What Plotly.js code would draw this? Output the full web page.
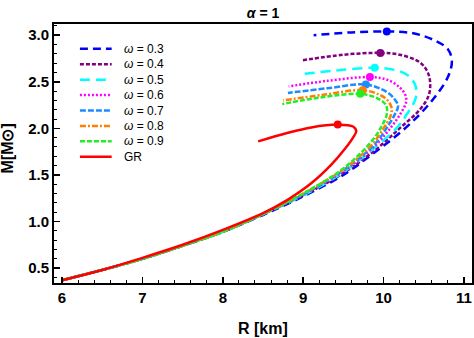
<!DOCTYPE html>
<html>
<head>
<meta charset="utf-8">
<script src="https://cdn.plot.ly/plotly-3.0.1.min.js"></script>
<style>
  body { margin: 0; background: #fff; }
  #grafica { width: 474px; height: 338px; }
</style>
</head>
<body>
<div id="grafica"></div>
<script>
// Curvas masa-radio (R en km, M en masas solares)
const nombres = ['ω = 0.3', 'ω = 0.4', 'ω = 0.5', 'ω = 0.6', 'ω = 0.7', 'ω = 0.8', 'ω = 0.9', 'GR'];

const R03 = [6.0, 6.5, 7.0, 7.5, 8.0, 8.5, 9.0, 9.5, 9.9, 10.2, 10.45, 10.65, 10.8, 10.85, 10.8, 10.62, 10.37, 10.04, 9.6, 9.13];
const M03 = [0.37, 0.48, 0.60, 0.74, 0.89, 1.07, 1.27, 1.50, 1.75, 1.95, 2.15, 2.35, 2.55, 2.72, 2.85, 2.95, 3.02, 3.04, 3.03, 3.00];

const R04 = [6.0, 6.5, 7.0, 7.5, 8.0, 8.5, 9.0, 9.5, 9.9, 10.2, 10.45, 10.56, 10.58, 10.55, 10.45, 10.2, 9.96, 9.5, 8.99];
const M04 = [0.37, 0.48, 0.60, 0.74, 0.89, 1.08, 1.28, 1.52, 1.77, 2.00, 2.20, 2.35, 2.48, 2.60, 2.71, 2.79, 2.81, 2.79, 2.73];

const R05 = [6.0, 6.5, 7.0, 7.5, 8.0, 8.5, 9.0, 9.5, 9.9, 10.17, 10.31, 10.39, 10.41, 10.38, 10.3, 10.17, 9.89, 9.4, 8.96];
const M05 = [0.37, 0.48, 0.60, 0.74, 0.89, 1.08, 1.28, 1.53, 1.80, 2.01, 2.18, 2.30, 2.40, 2.49, 2.57, 2.62, 2.65, 2.62, 2.58];

const R06 = [6.0, 6.5, 7.0, 7.5, 8.0, 8.5, 9.0, 9.5, 9.9, 10.1, 10.22, 10.28, 10.27, 10.2, 10.05, 9.83, 9.3, 8.82];
const M06 = [0.37, 0.48, 0.60, 0.74, 0.89, 1.08, 1.29, 1.54, 1.82, 2.02, 2.17, 2.28, 2.36, 2.44, 2.52, 2.55, 2.51, 2.45];

const R07 = [6.0, 6.5, 7.0, 7.5, 8.0, 8.5, 9.0, 9.5, 9.9, 10.05, 10.14, 10.18, 10.14, 10.04, 9.78, 9.3, 8.81];
const M07 = [0.37, 0.48, 0.60, 0.74, 0.89, 1.08, 1.29, 1.55, 1.84, 2.02, 2.15, 2.24, 2.31, 2.39, 2.47, 2.43, 2.38];

const R08 = [6.0, 6.5, 7.0, 7.5, 8.0, 8.5, 9.0, 9.5, 9.85, 10.0, 10.09, 10.1, 10.05, 9.95, 9.74, 9.25, 8.75];
const M08 = [0.37, 0.48, 0.60, 0.74, 0.89, 1.08, 1.30, 1.56, 1.82, 2.00, 2.14, 2.22, 2.30, 2.36, 2.41, 2.36, 2.30];

const R09 = [6.0, 6.5, 7.0, 7.5, 8.0, 8.5, 9.0, 9.5, 9.85, 9.98, 10.04, 10.03, 9.93, 9.71, 9.2, 8.74];
const M09 = [0.37, 0.48, 0.60, 0.74, 0.89, 1.08, 1.30, 1.57, 1.86, 2.03, 2.15, 2.25, 2.32, 2.37, 2.33, 2.26];

const RGR = [6.0, 6.5, 7.0, 7.5, 8.0, 8.5, 8.8, 9.1, 9.35, 9.52, 9.62, 9.66, 9.62, 9.43, 9.1, 8.8, 8.44];
const MGR = [0.37, 0.48, 0.61, 0.75, 0.91, 1.09, 1.23, 1.41, 1.61, 1.78, 1.90, 1.97, 2.02, 2.04, 2.01, 1.95, 1.86];

// Masa maxima de cada curva
const picoR = [10.04, 9.96, 9.89, 9.83, 9.78, 9.74, 9.71, 9.43];
const picoM = [3.04, 2.81, 2.65, 2.55, 2.47, 2.41, 2.37, 2.04];

const curvasR = [R03, R04, R05, R06, R07, R08, R09, RGR];
const curvasM = [M03, M04, M05, M06, M07, M08, M09, MGR];

const colores = ['#0000ff', '#800080', '#00ffff', '#ff00ff', '#1e8cff', '#ff8000', '#22ee22', '#ff0000'];
const trazos = ['8px,5px', '4px,2px', '10px,6px', '2px,2px', '6px,2px', '6px,2px,2px,2px', '5px,2px', 'solid'];

let data = [];
for (let i = 0; i < curvasR.length; i++) {
    data.push({
        x: curvasR[i], y: curvasM[i],
        mode: 'lines',
        line: { color: colores[i], width: 2.5, dash: trazos[i], shape: 'spline', smoothing: 1 },
        name: nombres[i], showlegend: false, hoverinfo: 'skip'
    });
}
for (let i = 0; i < picoR.length; i++) {
    data.push({
        x: [picoR[i]], y: [picoM[i]],
        mode: 'markers',
        marker: { color: colores[i], size: 8 },
        showlegend: false, hoverinfo: 'skip'
    });
}

// Leyenda dibujada a mano para que quede compacta como en la figura
let shapes = [], annotations = [];
const top0 = 0.904, paso = 0.0595;
for (let i = 0; i < nombres.length; i++) {
    const yy = top0 - i * paso;
    shapes.push({
        type: 'line', xref: 'paper', yref: 'paper',
        x0: 0.062, x1: 0.138, y0: yy, y1: yy,
        line: { color: colores[i], width: 2.5, dash: trazos[i] }
    });
    const txt = nombres[i] === 'GR' ? 'GR' : '<i>ω</i> = ' + nombres[i].split('= ')[1];
    annotations.push({
        xref: 'paper', yref: 'paper', x: 0.163, y: yy,
        xanchor: 'left', yanchor: 'middle', showarrow: false,
        text: txt, font: { size: 12, color: '#000' }
    });
}
annotations.push({
    xref: 'paper', yref: 'paper', x: -0.112, y: 0.52,
    xanchor: 'center', yanchor: 'middle', showarrow: false, textangle: -90,
    text: '<b>M[M⊙]</b>', font: { size: 16, color: '#000' }
});
annotations.push({
    xref: 'paper', yref: 'paper', x: 0.5, y: -0.174,
    xanchor: 'center', yanchor: 'middle', showarrow: false,
    text: '<b>R [km]</b>', font: { size: 16, color: '#000' }
});

const eje = {
    showgrid: false, zeroline: false,
    showline: true, linecolor: '#000', linewidth: 2, mirror: true,
    ticks: 'inside', ticklen: 6, tickwidth: 1.5, tickcolor: '#000',
    tickfont: { size: 15, color: '#000', family: 'Liberation Sans, Arial' },
    minor: { ticks: 'inside', ticklen: 3, tickcolor: '#000', tickwidth: 1, showgrid: false }
};

const layout = {
    width: 474, height: 338,
    margin: { l: 54, r: 2, t: 24, b: 55 },
    paper_bgcolor: '#fff', plot_bgcolor: '#fff',
    font: { family: 'Liberation Sans, Arial', color: '#000' },
    title: { text: '<b><i>α</i> = 1</b>', x: 0.555, xanchor: 'center', y: 0.975, font: { size: 14 } },
    xaxis: Object.assign({}, eje, { range: [5.9, 11.1], dtick: 1, tick0: 6, minor: Object.assign({}, eje.minor, { dtick: 0.2 }), tickprefix: '<b>', ticksuffix: '</b>' }),
    yaxis: Object.assign({}, eje, { range: [0.34, 3.12], dtick: 0.5, tick0: 0.5, tickformat: '.1f', minor: Object.assign({}, eje.minor, { dtick: 0.1 }), tickprefix: '<b>', ticksuffix: '</b>' }),
    shapes: shapes,
    annotations: annotations,
    showlegend: false
};

Plotly.newPlot('grafica', data, layout, { displayModeBar: false, staticPlot: true });
</script>
</body>
</html>
